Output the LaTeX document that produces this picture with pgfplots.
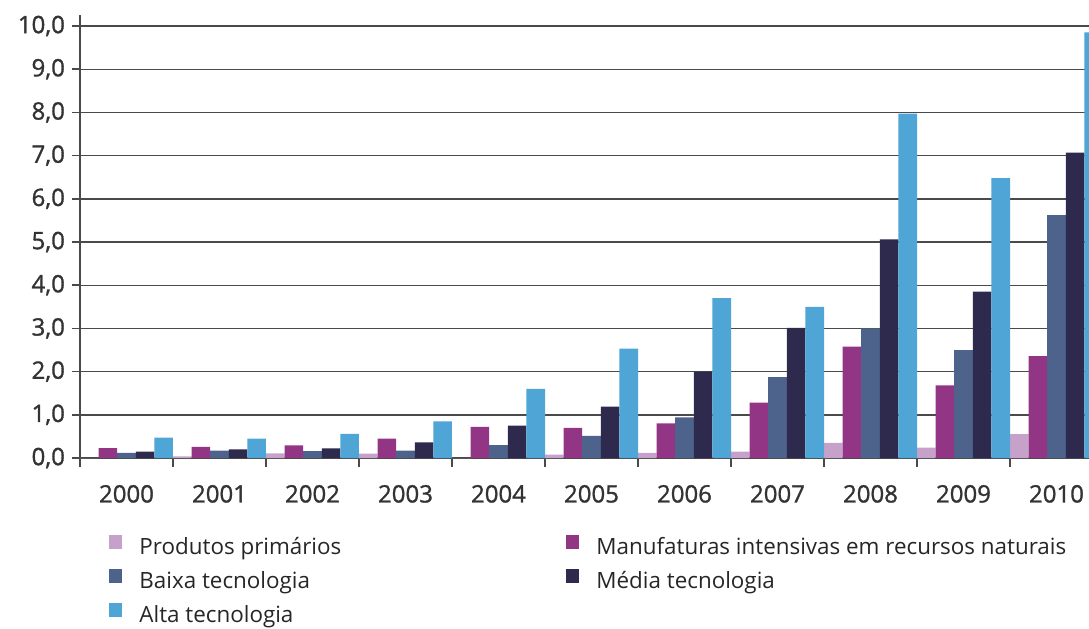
\documentclass[border=0pt]{standalone}
\usepackage{pgfplots}
\pgfplotsset{compat=1.18}
\usepackage{fontspec}
\setmainfont{Open Sans}
\newfontfamily\tickfont[FakeBold=1.2]{Open Sans}
\definecolor{cprim}{HTML}{C6A2CB}
\definecolor{cmanuf}{HTML}{933585}
\definecolor{cbaixa}{HTML}{4E638C}
\definecolor{cmedia}{HTML}{2D2A4E}
\definecolor{calta}{HTML}{4FA6D6}
\definecolor{gridc}{HTML}{4A4A4A}
\begin{document}
\begin{tikzpicture}
\begin{axis}[
    at={(0pt,0pt)}, anchor=south west,
    scale only axis,
    width=511.5pt, height=221.4pt,
    xmin=-0.5, xmax=10.5,
    ymin=0, ymax=10.25,
    ybar=0pt, bar width=9.3pt,
    axis lines*=left,
    axis line style={gridc, line width=0.75pt},
    tick align=outside,
    major tick length=4pt,
    minor tick length=4.5pt,
    tick style={gridc, line width=0.75pt},
    major x tick style={draw=none},
    xtick={0,...,10},
    xticklabels={2000,2001,2002,2003,2004,2005,2006,2007,2008,2009,2010},
    xticklabel style={yshift=-6pt},
    minor xtick={-0.5,0.5,...,10.5},
    ytick={0,1,...,10},
    ymajorgrids,
    major grid style={gridc, line width=0.7pt},
    ticklabel style={font=\tickfont\fontsize{12}{14}\selectfont, text=black!80},
    /pgf/number format/.cd, fixed, fixed zerofill, precision=1, use comma, assume math mode=true,
    /pgfplots/.cd,
    legend columns=2,
    legend style={draw=none, fill=none, at={(0.0225,-0.165)}, anchor=north west,
        font=\fontsize{11.2}{13}\selectfont, text=black!85,
        nodes={inner sep=0pt, text height=8pt, text depth=2.5pt},
        row sep=4.8pt, column sep=0pt},
    legend cell align=left,
    legend image code/.code={\fill[#1] (0pt,0.2pt) rectangle (6.5pt,6.9pt); \path[draw=none, fill=none] (0pt,0pt) (15pt,1pt);},
]
\addplot[fill=cprim, draw=none] coordinates {(0,0.0) (1,0.04) (2,0.11) (3,0.10) (4,0.0) (5,0.08) (6,0.12) (7,0.15) (8,0.35) (9,0.24) (10,0.55)};
\addlegendentry{\makebox[213.5pt][l]{Produtos primários}}
\addplot[fill=cmanuf, draw=none] coordinates {(0,0.23) (1,0.26) (2,0.29) (3,0.45) (4,0.72) (5,0.70) (6,0.80) (7,1.28) (8,2.58) (9,1.68) (10,2.36)};
\addlegendentry{Manufaturas intensivas em recursos naturais}
\addplot[fill=cbaixa, draw=none] coordinates {(0,0.12) (1,0.17) (2,0.16) (3,0.17) (4,0.30) (5,0.51) (6,0.94) (7,1.87) (8,3.00) (9,2.50) (10,5.62)};
\addlegendentry{\makebox[213.5pt][l]{Baixa tecnologia}}
\addplot[fill=cmedia, draw=none] coordinates {(0,0.15) (1,0.20) (2,0.22) (3,0.36) (4,0.75) (5,1.19) (6,2.00) (7,3.01) (8,5.06) (9,3.85) (10,7.07)};
\addlegendentry{Média tecnologia}
\addplot[fill=calta, draw=none] coordinates {(0,0.47) (1,0.45) (2,0.56) (3,0.85) (4,1.60) (5,2.53) (6,3.70) (7,3.50) (8,7.97) (9,6.48) (10,9.85)};
\addlegendentry{\makebox[213.5pt][l]{Alta tecnologia}}
\end{axis}
\pgfresetboundingbox
\useasboundingbox (-40pt,-85pt) rectangle (504.5pt,229pt);
\end{tikzpicture}
\end{document}
